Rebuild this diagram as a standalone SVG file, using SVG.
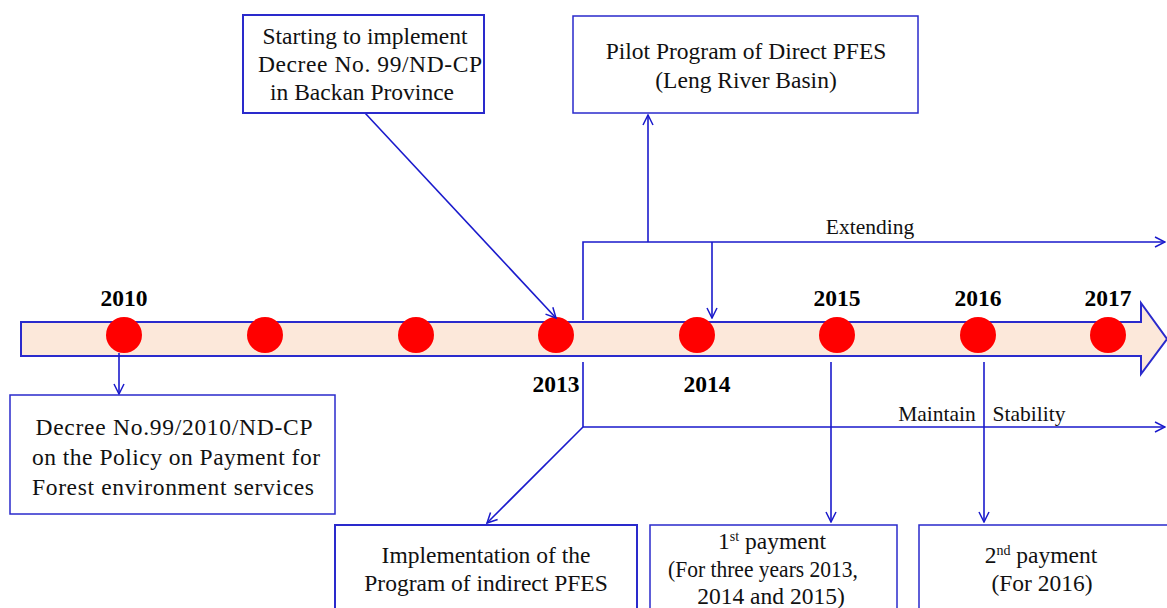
<svg xmlns="http://www.w3.org/2000/svg" width="1167" height="608" viewBox="0 0 1167 608">
<defs>
<marker id="arr" viewBox="0 0 12 12" refX="11" refY="6" markerWidth="12" markerHeight="12" markerUnits="userSpaceOnUse" orient="auto">
<path d="M1,1 L11,6 L1,11" fill="none" stroke="#1a1acc" stroke-width="1.5"/>
</marker>
</defs>
<style>
.box{fill:#fff;stroke:#2a2acc;stroke-width:1.5}
.t{font-family:'Liberation Serif','DejaVu Serif',serif;font-size:23.5px;fill:#111;text-anchor:middle}
.s{font-size:21.5px}
.yr{font-family:'Liberation Serif','DejaVu Serif',serif;font-size:23.5px;font-weight:bold;fill:#000;text-anchor:middle}
.dot{fill:#ff0000}
.ln{fill:none;stroke:#1a1acc;stroke-width:1.6}
</style>
<rect width="1167" height="608" fill="#fff"/>
<g id="timeline">
<path d="M21,322 L1141,322 L1141,303 L1167,339 L1141,374 L1141,356 L21,356 Z" fill="#fce8da" stroke="#2a2acc" stroke-width="2"/>
<ellipse class="dot" cx="124" cy="335" rx="18" ry="18"/>
<ellipse class="dot" cx="265" cy="335" rx="18" ry="18"/>
<ellipse class="dot" cx="416" cy="335" rx="18" ry="18"/>
<ellipse class="dot" cx="556" cy="335" rx="18" ry="18"/>
<ellipse class="dot" cx="697" cy="335" rx="18" ry="18"/>
<ellipse class="dot" cx="837" cy="335" rx="18" ry="18"/>
<ellipse class="dot" cx="978" cy="335" rx="18" ry="18"/>
<ellipse class="dot" cx="1108" cy="335" rx="18" ry="18"/>
<text class="yr" x="124" y="306">2010</text>
<text class="yr" x="837" y="306">2015</text>
<text class="yr" x="978" y="306">2016</text>
<text class="yr" x="1108" y="306">2017</text>
<text class="yr" x="556" y="392">2013</text>
<text class="yr" x="707" y="392">2014</text>
</g>
<g id="connectors">
<line class="ln" x1="119" y1="353" x2="119" y2="394" marker-end="url(#arr)"/>
<line class="ln" x1="365" y1="113" x2="556" y2="318" marker-end="url(#arr)"/>
<line class="ln" x1="648" y1="242" x2="648" y2="115" marker-end="url(#arr)"/>
<polyline class="ln" points="583,320 583,242 1165,242" marker-end="url(#arr)"/>
<line class="ln" x1="712" y1="242" x2="712" y2="318" marker-end="url(#arr)"/>
<polyline class="ln" points="583,362 583,427 1165,427" marker-end="url(#arr)"/>
<line class="ln" x1="583" y1="427" x2="487" y2="523" marker-end="url(#arr)"/>
<line class="ln" x1="831" y1="362" x2="831" y2="522" marker-end="url(#arr)"/>
<line class="ln" x1="984" y1="362" x2="984" y2="522" marker-end="url(#arr)"/>
<text class="t s" x="870" y="234">Extending</text>
<text class="t s" x="937" y="421">Maintain</text>
<text class="t s" x="1029" y="421">Stability</text>
</g>
<g id="n-decree">
<rect class="box" x="10" y="395" width="325" height="119"/>
<text class="t" x="174" y="435" textLength="277" lengthAdjust="spacing">Decree No.99/2010/ND-CP</text>
<text class="t" x="176" y="465" textLength="288" lengthAdjust="spacing">on the Policy on Payment for</text>
<text class="t" x="173" y="495" textLength="282" lengthAdjust="spacing">Forest environment services</text>
</g>
<g id="n-starting">
<rect class="box" x="243" y="15" width="241" height="98" style="stroke-width:2"/>
<text class="t" x="365" y="44">Starting to implement</text>
<text class="t" x="370" y="72" textLength="224" lengthAdjust="spacing">Decree No. 99/ND-CP</text>
<text class="t" x="362" y="100">in Backan Province</text>
</g>
<g id="n-pilot">
<rect class="box" x="573" y="16" width="345" height="97"/>
<text class="t" x="746" y="59">Pilot Program of Direct PFES</text>
<text class="t" x="746" y="88">(Leng River Basin)</text>
</g>
<g id="n-indirect">
<rect class="box" x="335" y="525" width="302" height="95" style="stroke-width:2"/>
<text class="t" x="486" y="563">Implementation of the</text>
<text class="t" x="486" y="591">Program of indirect PFES</text>
</g>
<g id="n-pay1">
<rect class="box" x="650" y="525" width="247" height="95"/>
<text class="t" x="772" y="549">1<tspan dy="-8" style="font-size:14px">st</tspan><tspan dy="8"> payment</tspan></text>
<text class="t" x="763" y="577" textLength="190" lengthAdjust="spacingAndGlyphs">(For three years 2013,</text>
<text class="t" x="771" y="604">2014 and 2015)</text>
</g>
<g id="n-pay2">
<rect class="box" x="919" y="525" width="260" height="95"/>
<text class="t" x="1041" y="563">2<tspan dy="-8" style="font-size:14px">nd</tspan><tspan dy="8"> payment</tspan></text>
<text class="t" x="1042" y="591">(For 2016)</text>
</g>
</svg>
